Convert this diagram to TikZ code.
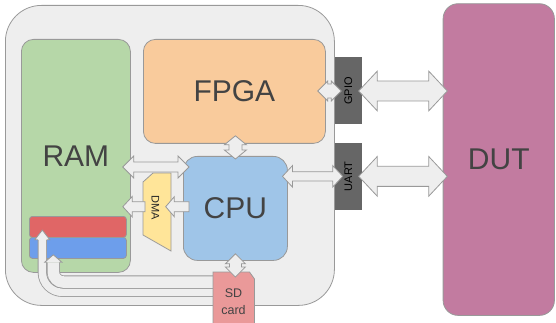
\documentclass[tikz,border=0pt]{standalone}
\usepackage{fontspec}
\setmainfont{Liberation Sans}
\usetikzlibrary{calc}
\definecolor{boardfill}{HTML}{EEEEEE}
\definecolor{edgegrey}{HTML}{999999}
\definecolor{arrowfill}{HTML}{EEEEEE}
\definecolor{ramgreen}{HTML}{B6D7A8}
\definecolor{fpgaorange}{HTML}{F9CB9C}
\definecolor{cpublue}{HTML}{9FC5E8}
\definecolor{dutpurple}{HTML}{C27BA0}
\definecolor{sdpink}{HTML}{EA9999}
\definecolor{barred}{HTML}{E06666}
\definecolor{barblue}{HTML}{6D9EEB}
\definecolor{dmayellow}{HTML}{FFE599}
\definecolor{iogrey}{HTML}{666666}
\definecolor{txtgrey}{HTML}{434343}
\tikzset{
  box/.style={draw=edgegrey, line width=0.8pt, inner sep=0pt, anchor=north west},
  big/.style={font=\fontsize{30}{36}\selectfont, text=txtgrey},
  smalltxt/.style={font=\fontsize{11}{13}\selectfont, inner sep=0pt},
  iobox/.style={fill=iogrey, inner sep=0pt, anchor=north west, minimum width=27pt},
  fatarrow/.style={draw=edgegrey, fill=arrowfill, line width=0.8pt, line join=miter},
  fatshaft/.style={draw=edgegrey, double=arrowfill, line width=0.8pt},
}
% double-headed fat arrow: #1 tip A, #2 tip B, #3 head length, #4 head half width, #5 shaft half width
\newcommand{\dblarrow}[5]{%
  \path ($(#1)!#3!(#2)$) coordinate (tmpa) ($(#2)!#3!(#1)$) coordinate (tmpb);
  \draw[fatarrow] (#1)
    -- ($(tmpa)!#4!90:(#2)$) -- ($(tmpa)!#5!90:(#2)$)
    -- ($(tmpb)!#5!-90:(#1)$) -- ($(tmpb)!#4!-90:(#1)$)
    -- (#2)
    -- ($(tmpb)!#4!90:(#1)$) -- ($(tmpb)!#5!90:(#1)$)
    -- ($(tmpa)!#5!-90:(#2)$) -- ($(tmpa)!#4!-90:(#2)$)
    -- cycle;}
% single-headed fat arrow: #1 tip, #2 tail
\newcommand{\sglarrow}[5]{%
  \path ($(#1)!#3!(#2)$) coordinate (tmpa);
  \draw[fatarrow] (#1)
    -- ($(tmpa)!#4!90:(#2)$) -- ($(tmpa)!#5!90:(#2)$)
    -- ($(#2)!#5!-90:(#1)$) -- ($(#2)!#5!90:(#1)$)
    -- ($(tmpa)!#5!-90:(#2)$) -- ($(tmpa)!#4!-90:(#2)$)
    -- cycle;}
% arrow head on a bent shaft: #1 tip, #2 base centre, #3 head half width, #4 shaft half width
\newcommand{\fathead}[4]{%
  \fill[arrowfill] (#1) -- ($(#2)!#3!90:(#1)$) -- ($(#2)!#3!-90:(#1)$) -- cycle;
  \draw[edgegrey, line width=0.8pt, line join=miter]
    ($(#2)!#4!90:(#1)$) -- ($(#2)!#3!90:(#1)$) -- (#1)
    -- ($(#2)!#3!-90:(#1)$) -- ($(#2)!#4!-90:(#1)$);}
\begin{document}
\begin{tikzpicture}[x=1pt,y=-1pt]
\useasboundingbox (0,0) rectangle (556,323);
\clip (0,0) rectangle (556,323);

% board and blocks
\node[box, fill=boardfill, rounded corners=36pt, minimum width=329pt, minimum height=300pt] (board) at (5,5) {};
\node[box, fill=ramgreen, rounded corners=12pt, minimum width=109pt, minimum height=233pt, big] (ram) at (21,39) {RAM};
\node[box, fill=barred, rounded corners=3pt, minimum width=97pt, minimum height=21pt] (redbar) at (29,216) {};
\node[box, fill=barblue, rounded corners=3pt, minimum width=97pt, minimum height=21pt] (bluebar) at (29,237) {};
\node[box, fill=fpgaorange, rounded corners=12pt, minimum width=182pt, minimum height=104pt, big] (fpga) at (143,39) {FPGA};
\node[box, fill=cpublue, rounded corners=14pt, minimum width=104pt, minimum height=104pt, big] (cpu) at (183,156) {CPU};
\node[box, fill=dutpurple, rounded corners=15pt, minimum width=111.3pt, minimum height=311.7pt, big] (dut) at (442.7,3.3) {DUT};
\node[iobox, minimum height=67pt] (gpio) at (334.7,57.3) {};
\node[smalltxt, rotate=90] (gpiotxt) at (gpio.center) {GPIO};
\node[iobox, minimum height=66.3pt] (uart) at (334.7,143) {};
\node[smalltxt, rotate=90] (uarttxt) at (uart.center) {UART};

% SD card -> RAM bent arrows (behind the SD card)
\coordinate (sdnw) at (213,272);
\coordinate (os) at ($(sdnw)+(4,20.3)$);
\coordinate (oh) at ($(redbar.south west)+(13.3,2)$);
\coordinate (ot) at ($(oh)+(0,-9.7)$);
\draw[fatshaft, double distance=7.6pt, rounded corners=20pt] (os) -| (oh);
\fathead{ot}{oh}{7.5pt}{4.2pt}
\coordinate (is) at ($(sdnw)+(4,10)$);
\coordinate (ih) at ($(bluebar.south west)+(24.3,3.5)$);
\coordinate (it) at ($(ih)+(0,-7.5)$);
\draw[fatshaft, double distance=11.5pt, rounded corners=10pt] (is) -| (ih);
\fathead{it}{ih}{8.7pt}{6.15pt}

% SD card
\draw[fill=sdpink, draw=edgegrey, line width=0.8pt] (sdnw) -- (249.5,272) -- (254.5,279) -- (254.5,330) -- (213,330) -- cycle;
\node[font=\fontsize{12.5}{17}\selectfont, text=txtgrey, align=center, inner sep=0pt] (sd) at (233.5,302) {SD\\card};

% DMA
\draw[fill=dmayellow, draw=edgegrey, line width=0.8pt] (143,182) -- (153,173) -- (171,173) -- (171,251) -- (143,235) -- cycle;
\node[smalltxt, rotate=-90, text=black!85] (dma) at (155.5,208) {DMA};

% straight fat arrows
\coordinate (rc1) at ($(ram.east |- 0,167)+(-8,0)$);
\coordinate (rc2) at ($(cpu.west |- 0,167)+(6,0)$);
\dblarrow{rc1}{rc2}{11pt}{11pt}{5pt}

\coordinate (dr1) at ($(ram.east |- dma.center)+(-8,-1.3)$);
\coordinate (dr2) at (145,206.7);
\sglarrow{dr1}{dr2}{9.5pt}{10.3pt}{5pt}

\coordinate (cd1) at (165.7,206.7);
\coordinate (cd2) at ($(cpu.west |- cd1)+(6,0)$);
\sglarrow{cd1}{cd2}{8.6pt}{10pt}{5pt}

\coordinate (fc1) at ($(cpu.north |- fpga.south)+(0,-8)$);
\coordinate (fc2) at ($(cpu.north)+(0,3)$);
\dblarrow{fc1}{fc2}{9pt}{11pt}{6.5pt}

\coordinate (cs1) at ($(cpu.south)+(0,-7)$);
\coordinate (cs2) at ($(cpu.south |- sdnw)+(0,5)$);
\dblarrow{cs1}{cs2}{10pt}{10pt}{6pt}

\coordinate (fg1) at ($(fpga.east |- gpio.center)+(-8,0)$);
\coordinate (fg2) at ($(gpio.west)+(6.5,0)$);
\dblarrow{fg1}{fg2}{10pt}{10pt}{7pt}

\coordinate (cu1) at ($(cpu.east |- uart.center)+(-5.3,0)$);
\coordinate (cu2) at ($(uart.west)+(8,0)$);
\dblarrow{cu1}{cu2}{10pt}{10.8pt}{4.7pt}

\coordinate (gd1) at ($(gpio.east)+(-3.4,0)$);
\coordinate (gd2) at ($(dut.west |- gpio.east)+(4.6,0)$);
\dblarrow{gd1}{gd2}{18.5pt}{19.8pt}{10pt}

\coordinate (ud1) at ($(uart.east)+(-3.4,0)$);
\coordinate (ud2) at ($(dut.west |- uart.east)+(4.6,0)$);
\dblarrow{ud1}{ud2}{18.5pt}{19.8pt}{10pt}
\end{tikzpicture}
\end{document}
